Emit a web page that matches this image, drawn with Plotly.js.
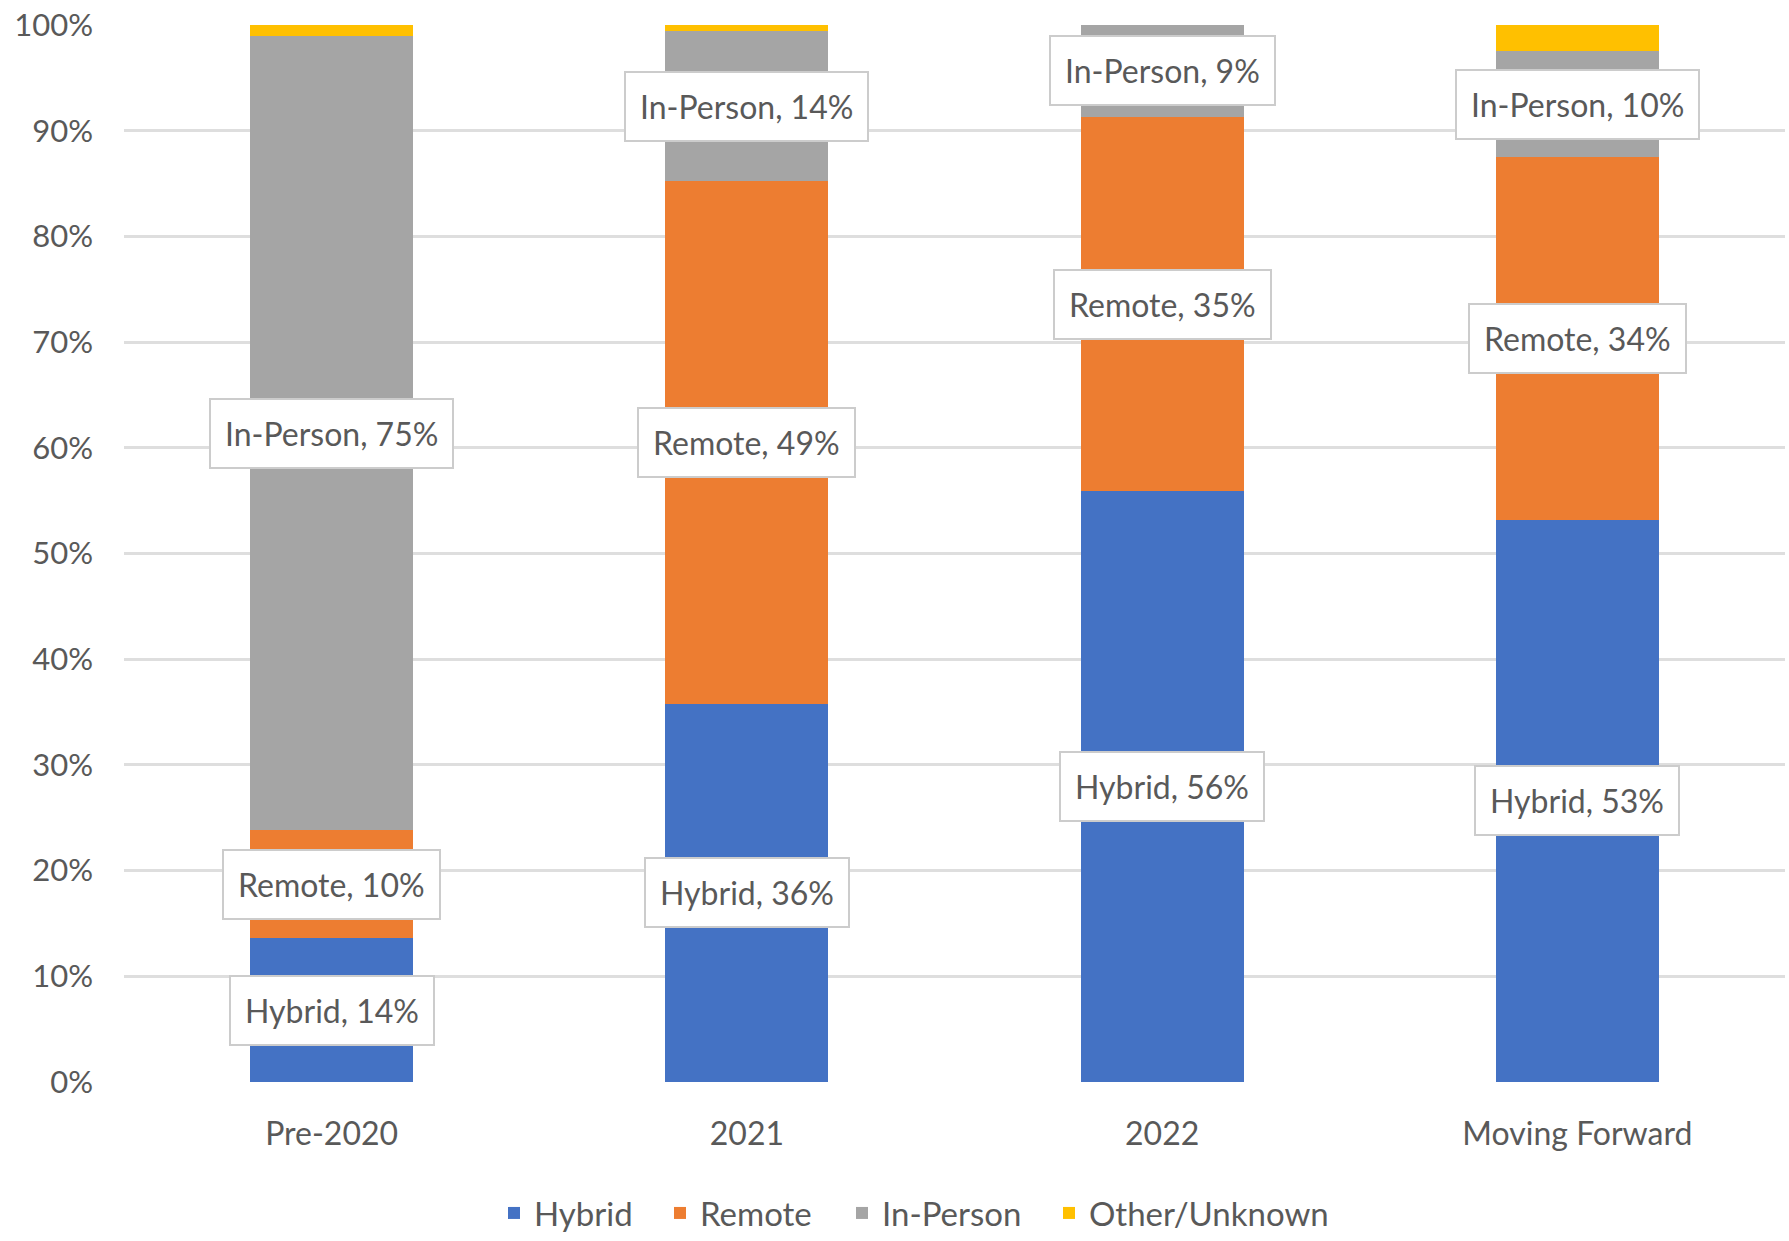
<!DOCTYPE html>
<html>
<head>
<meta charset="utf-8">
<script src="https://cdn.plot.ly/plotly-3.0.1.min.js"></script>
<style>
  html, body { margin: 0; padding: 0; background: #ffffff; }
  #chart { width: 1789px; height: 1241px; }
</style>
</head>
<body>
<div id="chart"></div>
<script>
// ---- data (percent of respondents) ----
const categories = ["Pre-2020", "2021", "2022", "Moving Forward"];
const seriesNames = ["Hybrid", "Remote", "In-Person", "Other/Unknown"];
const hybrid   = [13.6, 35.8, 55.9, 53.2];
const remote   = [10.2, 49.4, 35.4, 34.3];
const inPerson = [75.2, 14.2, 8.7, 10.0];
const other    = [1.0, 0.6, 0.0, 2.5];
const labelledSeries = [true, true, true, false];
const yTickVals = [0, 10, 20, 30, 40, 50, 60, 70, 80, 90, 100];

// ---- styles ----
const colors = ["#4472C4", "#ED7D31", "#A5A5A5", "#FFC000"];
const FONT = "Lato, 'Open Sans', sans-serif";
const TXT = "#595959";
const W = 1789, H = 1241;
// left edge (px) of each legend entry
const legendLeftPx = [494, 660, 842, 1049];

const seriesValues = [hybrid, remote, inPerson, other];
const legendIds = seriesNames.map((_, i) => i === 0 ? "legend" : "legend" + (i + 1));

const traces = seriesValues.map((vals, i) => ({
  type: "bar",
  name: seriesNames[i],
  x: categories,
  y: vals,
  legend: legendIds[i],
  marker: { color: colors[i], line: { width: 0 } },
  hoverinfo: "name+y"
}));

// data labels at the centre of each labelled segment
const annotations = [];
categories.forEach((cat, ci) => {
  let base = 0;
  seriesValues.forEach((vals, si) => {
    const v = vals[ci];
    if (labelledSeries[si] && v > 0) {
      annotations.push({
        x: ci, xref: "x",
        y: base + v / 2, yref: "y",
        text: seriesNames[si] + ", " + Math.round(v) + "%",
        showarrow: false,
        font: { family: FONT, size: 32, color: TXT },
        bgcolor: "#ffffff",
        bordercolor: "#cccccc",
        borderwidth: 2,
        borderpad: 14,
        xanchor: "center", yanchor: "middle"
      });
    }
    base += v;
  });
});

const layout = {
  width: W, height: H,
  paper_bgcolor: "#ffffff", plot_bgcolor: "#ffffff",
  margin: { l: 124, r: 4, t: 25, b: 159 },
  barmode: "stack",
  bargap: 0.607,
  font: { family: FONT, size: 32, color: TXT },
  showlegend: true,
  xaxis: {
    type: "category",
    categoryorder: "array",
    categoryarray: categories,
    range: [-0.5, categories.length - 0.5],
    showgrid: false,
    showline: false,
    zeroline: false,
    ticks: "",
    ticklabelstandoff: 30,
    tickfont: { family: FONT, size: 32, color: TXT }
  },
  yaxis: {
    range: [0, 100],
    tickvals: yTickVals,
    ticktext: yTickVals.map(v => v + "%"),
    showgrid: true,
    gridcolor: "#dedede",
    gridwidth: 3,
    zeroline: false,
    showline: false,
    ticks: "",
    ticklabelstandoff: 30,
    tickfont: { family: FONT, size: 31, color: TXT }
  },
  annotations: annotations
};

legendIds.forEach((id, i) => {
  layout[id] = {
    orientation: "h",
    x: legendLeftPx[i] / W, xref: "container", xanchor: "left",
    y: 0, yref: "container", yanchor: "bottom",
    font: { family: FONT, size: 33, color: TXT },
    bgcolor: "rgba(0,0,0,0)",
    itemclick: false
  };
});

Plotly.newPlot("chart", traces, layout, { displayModeBar: false, staticPlot: true });
</script>
</body>
</html>
